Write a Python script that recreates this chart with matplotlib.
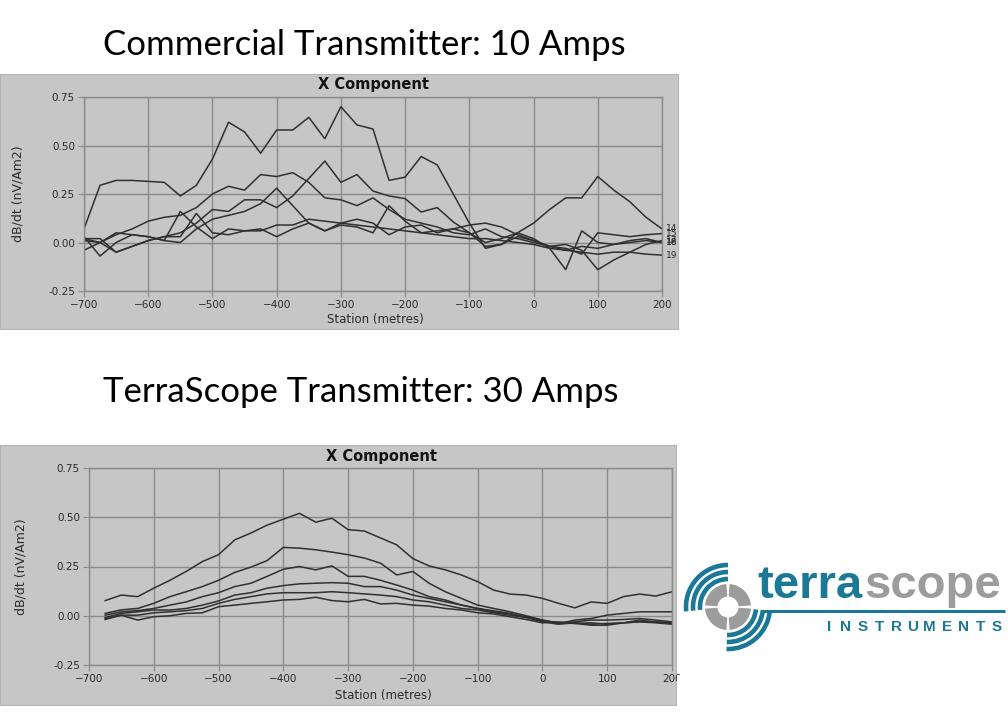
import matplotlib
matplotlib.use("Agg")
import matplotlib.pyplot as plt
from matplotlib.patches import Rectangle, Arc, Wedge
import numpy as np

W, H = 1008, 712

# stations (metres)
top_x = list(range(-700, 201, 25))
bot_x = list(range(-675, 201, 25))

# Commercial transmitter, 10 A  (channels 14-19)
top_14 = [0.07, 0.295, 0.32, 0.32, 0.315, 0.31, 0.24, 0.295, 0.43, 0.62, 0.57, 0.46, 0.58,
          0.58, 0.645, 0.535, 0.70, 0.606, 0.585, 0.32, 0.337, 0.443, 0.40, 0.25, 0.10,
          -0.03, -0.01, 0.05, 0.10, 0.17, 0.23, 0.23, 0.34, 0.27, 0.21, 0.13, 0.07]
top_15 = [0.01, 0.00, 0.04, 0.07, 0.11, 0.13, 0.14, 0.18, 0.25, 0.29, 0.27, 0.35, 0.34,
          0.36, 0.31, 0.23, 0.22, 0.19, 0.23, 0.17, 0.12, 0.10, 0.08, 0.05, 0.04,
          0.07, 0.03, 0.02, 0.00, -0.02, -0.03, -0.06, 0.05, 0.04, 0.03, 0.04, 0.046]
top_16 = [0.02, 0.00, -0.05, -0.02, 0.01, 0.03, 0.05, 0.10, 0.17, 0.16, 0.22, 0.22, 0.18,
          0.24, 0.33, 0.42, 0.31, 0.35, 0.265, 0.24, 0.226, 0.157, 0.18, 0.106, 0.05,
          -0.02, -0.01, 0.03, 0.01, -0.02, -0.04, -0.02, -0.03, -0.01, 0.01, 0.02, 0.00]
top_17 = [-0.04, 0.00, 0.05, 0.04, 0.03, 0.01, 0.00, 0.07, 0.12, 0.14, 0.16, 0.20, 0.28,
          0.19, 0.10, 0.06, 0.10, 0.12, 0.10, 0.04, 0.08, 0.09, 0.05, 0.07, 0.09,
          0.10, 0.08, 0.04, 0.01, -0.02, -0.01, -0.04, -0.14, -0.09, -0.05, -0.01, 0.01]
top_18 = [0.03, -0.07, 0.00, 0.04, 0.03, 0.01, 0.16, 0.08, 0.02, 0.07, 0.06, 0.07, 0.03,
          0.07, 0.10, 0.06, 0.09, 0.08, 0.05, 0.19, 0.11, 0.05, 0.06, 0.07, 0.05,
          0.00, 0.02, 0.05, 0.02, -0.03, -0.14, 0.06, 0.00, -0.01, 0.00, 0.01, 0.00]
top_19 = [0.02, 0.02, -0.05, -0.02, 0.01, 0.03, 0.03, 0.15, 0.05, 0.04, 0.06, 0.06, 0.09,
          0.09, 0.12, 0.11, 0.10, 0.09, 0.08, 0.07, 0.06, 0.05, 0.04, 0.03, 0.02,
          0.02, 0.01, 0.00, -0.01, -0.03, -0.04, -0.05, -0.06, -0.05, -0.05, -0.06, -0.065]
top_series = [top_14, top_15, top_16, top_17, top_18, top_19]
top_names = ["14", "15", "16", "17", "18", "19"]

# TerraScope transmitter, 30 A
bot_1 = [0.077, 0.105, 0.097, 0.14, 0.18, 0.225, 0.275, 0.31, 0.385, 0.42, 0.46, 0.49,
         0.52, 0.475, 0.495, 0.437, 0.43, 0.395, 0.36, 0.29, 0.253, 0.233, 0.207, 0.173,
         0.13, 0.11, 0.105, 0.088, 0.063, 0.04, 0.07, 0.063, 0.097, 0.11, 0.10, 0.122]
bot_2 = [0.012, 0.03, 0.037, 0.063, 0.097, 0.122, 0.148, 0.18, 0.22, 0.247, 0.28, 0.347,
         0.343, 0.335, 0.323, 0.31, 0.293, 0.267, 0.207, 0.225, 0.165, 0.122, 0.088, 0.054,
         0.037, 0.02, 0.0, -0.022, -0.04, -0.022, -0.014, 0.003, 0.012, 0.02, 0.02, 0.02]
bot_3 = [0.003, 0.020, 0.026, 0.037, 0.054, 0.070, 0.097, 0.117, 0.148, 0.165, 0.200, 0.236,
         0.250, 0.233, 0.253, 0.200, 0.200, 0.180, 0.156, 0.130, 0.097, 0.080, 0.054, 0.037,
         0.025, 0.012, -0.008, -0.025, -0.036, -0.031, -0.022, -0.022, -0.019, -0.014, -0.022, -0.031]
bot_4 = [-0.009, 0.012, 0.020, 0.029, 0.029, 0.037, 0.054, 0.075, 0.105, 0.117, 0.140, 0.153,
         0.162, 0.165, 0.168, 0.165, 0.148, 0.148, 0.130, 0.105, 0.088, 0.071, 0.054, 0.037,
         0.020, 0.009, -0.005, -0.022, -0.036, -0.039, -0.036, -0.043, -0.036, -0.031, -0.031, -0.039]
bot_5 = [-0.014, 0.003, 0.003, 0.015, 0.020, 0.026, 0.037, 0.063, 0.083, 0.097, 0.111, 0.117,
         0.117, 0.117, 0.122, 0.117, 0.111, 0.105, 0.097, 0.080, 0.071, 0.054, 0.037, 0.029,
         0.015, 0.003, -0.009, -0.031, -0.043, -0.036, -0.043, -0.039, -0.036, -0.022, -0.031, -0.036]
bot_6 = [-0.019, 0.003, -0.022, -0.005, 0.0, 0.012, 0.015, 0.046, 0.054, 0.063, 0.071, 0.080,
         0.083, 0.094, 0.077, 0.071, 0.083, 0.060, 0.063, 0.054, 0.049, 0.037, 0.029, 0.015,
         0.009, -0.005, -0.019, -0.036, -0.031, -0.039, -0.048, -0.048, -0.036, -0.031, -0.036, -0.043]
bot_series = [bot_1, bot_2, bot_3, bot_4, bot_5, bot_6]

xticks = list(range(-700, 201, 100))
yticks = [-0.25, 0.0, 0.25, 0.50, 0.75]
ytick_labels = ["-0.25", "0.00", "0.25", "0.50", "0.75"]

PANEL = "#c6c6c6"
GRID = "#8a8a8a"
LINE = "#303030"
TXT = "#2a2a2a"
TEAL = "#1b7896"
LGRAY = "#9c9c9c"

fig = plt.figure(figsize=(W / 100, H / 100), dpi=100)
fig.patch.set_facecolor("white")


def fx(x):
    return x / W


def fy(y):
    return 1 - y / H


def ftext(x, y, s, ha="center", **kw):
    fig.text(fx(x), fy(y), s, ha=ha, va="center", **kw)


def panel(x0, y0, x1, y1):
    fig.add_artist(Rectangle((fx(x0), fy(y1)), fx(x1 - x0), (y1 - y0) / H,
                             transform=fig.transFigure, facecolor=PANEL,
                             edgecolor="#b4b4b4", lw=0.8, zorder=-1))


def chart(x0, y0, x1, y1, xs, series):
    ax = fig.add_axes([fx(x0), fy(y1), fx(x1 - x0), (y1 - y0) / H])
    ax.set_facecolor(PANEL)
    for s in series:
        ax.plot(xs, s, color=LINE, lw=1.1)
    ax.set_xlim(-700, 200)
    ax.set_ylim(-0.25, 0.75)
    ax.set_xticks(xticks)
    ax.set_yticks(yticks)
    ax.set_yticklabels(ytick_labels)
    ax.grid(True, color=GRID, lw=1.0)
    ax.set_axisbelow(True)
    for sp in ax.spines.values():
        sp.set_color(GRID)
        sp.set_linewidth(1.0)
    ax.tick_params(length=4, color=GRID, labelsize=7.5, labelcolor=TXT, pad=2.5)
    return ax


# ---- top: commercial transmitter
ftext(103, 45, "Commercial Transmitter: 10 Amps", ha="left", fontsize=25, family="Lato", color="black")
panel(0, 74, 678, 329)
ax1 = chart(84, 97, 662, 291, top_x, top_series)
for s, name in zip(top_series, top_names):
    ax1.text(206, s[-1], name, fontsize=6.5, color=TXT, ha="left", va="center", clip_on=False)
ftext(373, 84, "X Component", fontsize=10.5, fontweight="bold", color="#111111")
ftext(18, 194, "dB/dt (nV/Am2)", fontsize=9, rotation=90, color=TXT)
ftext(375, 319, "Station (metres)", fontsize=8.5, color=TXT)

# ---- bottom: terrascope transmitter
ftext(103, 392, "TerraScope Transmitter: 30 Amps", ha="left", fontsize=25, family="Lato", color="black")
panel(0, 445, 676, 705)
ax2 = chart(89, 468, 672, 665, bot_x, bot_series)
ftext(381, 456, "X Component", fontsize=10.5, fontweight="bold", color="#111111")
ftext(21, 567, "dB/dt (nV/Am2)", fontsize=9, rotation=90, color=TXT)
ftext(383, 695, "Station (metres)", fontsize=8.5, color=TXT)
# the screenshot is cropped at the panel edge
fig.add_artist(Rectangle((fx(677), fy(705)), fx(8), 30 / H, transform=fig.transFigure,
                         facecolor="white", edgecolor="none", zorder=5))

# ---- logo
lg = fig.add_axes([fx(680), fy(655), fx(328), 100 / H])
lg.set_xlim(680, 1008)
lg.set_ylim(H - 655, H - 555)
lg.axis("off")
cx, cy = 728, H - 607
for a in [45, 135, 225, 315]:
    lg.add_patch(Wedge((cx, cy), 23, a - 41, a + 41, width=12.5, color=LGRAY, lw=0))
for r in [28, 35, 42]:
    lg.add_patch(Arc((cx, cy), 2 * r, 2 * r, theta1=90, theta2=186, color=TEAL, lw=3.3))
    lg.add_patch(Arc((cx, cy), 2 * r, 2 * r, theta1=268, theta2=355, color=TEAL, lw=3.3))
lg.plot([762, 1005], [H - 611, H - 611], color=TEAL, lw=2.2, solid_capstyle="butt")
lg.text(862, H - 598, "terra", fontsize=34, fontweight="bold", color=TEAL,
        family="Liberation Sans", ha="right", va="baseline")
lg.text(864, H - 598, "scope", fontsize=34, fontweight="bold", color=LGRAY,
        family="Liberation Sans", ha="left", va="baseline")
for ch, xc in zip("INSTRUMENTS", np.linspace(829, 997, 11)):
    lg.text(xc, H - 627, ch, fontsize=11, fontweight="bold", color=TEAL,
            family="Liberation Sans", ha="center", va="center")

fig.savefig("out.png", dpi=100)
